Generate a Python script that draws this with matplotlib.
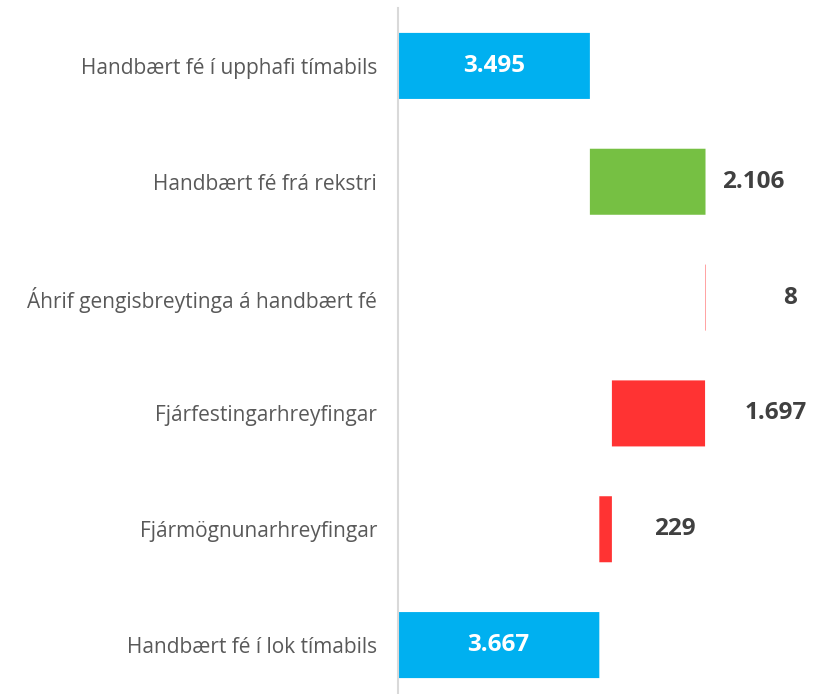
import matplotlib.pyplot as plt

categories = [
    "Handbært fé í upphafi tímabils",
    "Handbært fé frá rekstri",
    "Áhrif gengisbreytinga á handbært fé",
    "Fjárfestingarhreyfingar",
    "Fjármögnunarhreyfingar",
    "Handbært fé í lok tímabils",
]
changes = [3495, 2106, -8, -1697, -229, 3667]
kinds = ["total", "step", "step", "step", "step", "total"]
value_labels = ["3.495", "2.106", "8", "1.697", "229", "3.667"]

BLUE = "#00B0F0"
GREEN = "#76C043"
RED = "#FF3333"

# waterfall bases
lefts, widths, colors = [], [], []
running = 0
for val, kind in zip(changes, kinds):
    if kind == "total":
        lefts.append(0)
        widths.append(val)
        colors.append(BLUE)
        running = val
    else:
        start = running
        running = running + val
        lefts.append(min(start, running))
        widths.append(abs(val))
        colors.append(GREEN if val > 0 else RED)

plt.rcParams["font.family"] = ["Open Sans", "DejaVu Sans"]

fig = plt.figure(figsize=(8.18, 6.94), dpi=100)
ax = fig.add_axes([398 / 818, -9 / 694, 420 / 818, 695 / 694])

y = list(range(len(categories)))
bars = ax.barh(y, widths, left=lefts, height=0.57, color=colors, linewidth=0)
for b in bars:
    b.set_snap(False)

# label offsets past the bar end (data units), matching the reference spacing
label_offsets = [0, 300, 1410, 720, 775, 0]
for i, (l, w, lab, kind) in enumerate(zip(lefts, widths, value_labels, kinds)):
    if kind == "total":
        ax.text(l + w / 2, i, lab, ha="center", va="center", color="white",
                fontsize=17.5, fontweight="bold")
    else:
        ax.text(l + w + label_offsets[i], i, lab, ha="left", va="center",
                color="#404040", fontsize=17.5, fontweight="bold")

ax.set_xlim(0, 7650)
ax.set_ylim(len(categories) - 0.5, -0.5)
ax.set_yticks(y)
ax.set_yticklabels(categories, fontsize=15, color="#595959")
ax.tick_params(axis="y", length=0, pad=15)
ax.set_xticks([])
for s in ["top", "right", "bottom"]:
    ax.spines[s].set_visible(False)
ax.spines["left"].set_color("#D9D9D9")
ax.spines["left"].set_linewidth(1.5)
ax.spines["left"].set_bounds(len(categories) - 0.5 + 0.1, -0.5)

fig.savefig("out.png", dpi=100)
